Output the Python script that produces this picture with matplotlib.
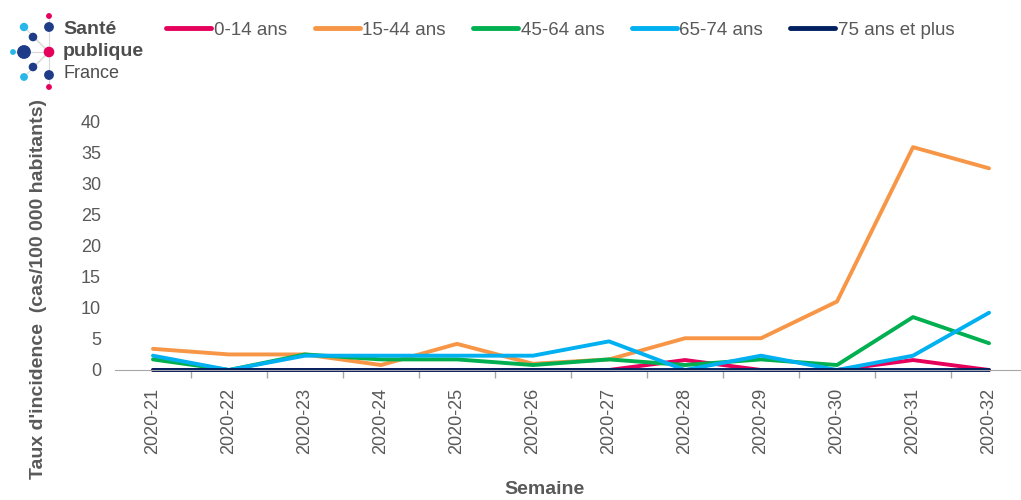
import matplotlib.pyplot as plt
import numpy as np
from matplotlib.lines import Line2D

WEEKS = ["2020-21", "2020-22", "2020-23", "2020-24", "2020-25", "2020-26",
         "2020-27", "2020-28", "2020-29", "2020-30", "2020-31", "2020-32"]

AGE_0_14 = [0.0, 0.0, 0.0, 0.0, 0.0, 0.0, 0.0, 1.6, 0.0, 0.0, 1.6, 0.0]
AGE_15_44 = [3.4, 2.5, 2.5, 0.8, 4.2, 1.0, 1.7, 5.1, 5.1, 11.0, 35.8, 32.4]
AGE_45_64 = [1.7, 0.0, 2.5, 1.7, 1.7, 0.8, 1.7, 0.8, 1.7, 0.8, 8.5, 4.3]
AGE_65_74 = [2.3, 0.0, 2.3, 2.3, 2.3, 2.3, 4.6, 0.0, 2.3, 0.0, 2.3, 9.2]
AGE_75_PLUS = [0.0] * 12

SERIES = [
    ("0-14 ans", AGE_0_14, "#E5005B"),
    ("15-44 ans", AGE_15_44, "#F79646"),
    ("45-64 ans", AGE_45_64, "#00B050"),
    ("65-74 ans", AGE_65_74, "#00B0F0"),
    ("75 ans et plus", AGE_75_PLUS, "#002060"),
]

TEXT = "#595959"
plt.rcParams["font.family"] = ["Liberation Sans", "DejaVu Sans"]

fig = plt.figure(figsize=(10.21, 5.0), dpi=100)
ax = fig.add_axes([0.1126, 0.26, 0.8933, 0.498])

x = np.arange(len(WEEKS))
for label, vals, color in SERIES:
    ax.plot(x, vals, color=color, linewidth=2.8, label=label,
            solid_capstyle="round", solid_joinstyle="round", clip_on=False)

ax.set_xlim(-0.5, len(WEEKS) - 0.5)
ax.set_ylim(0, 40)
ax.set_yticks(np.arange(0, 41, 5))
ax.tick_params(axis="y", length=0, labelsize=13, labelcolor=TEXT, pad=10)
ax.set_xticks(x)
ax.set_xticklabels(WEEKS, rotation=90, fontsize=13, color=TEXT)
ax.tick_params(axis="x", which="major", length=0, pad=13)
ax.set_xticks(np.arange(0.5, len(WEEKS) - 1, 1), minor=True)
ax.tick_params(axis="x", which="minor", length=6, color="#A6A6A6", width=1)
for side in ("top", "right", "left"):
    ax.spines[side].set_visible(False)
ax.spines["bottom"].set_color("#A6A6A6")

fig.text(0.038, 0.422, "Taux d'incidence  (cas/100 000 habitants)", rotation=90,
         ha="center", va="center", fontsize=14, fontweight="bold", color=TEXT)
fig.text(0.533, 0.02, "Semaine", ha="center", va="center", fontsize=14,
         fontweight="bold", color=TEXT)

handles = [Line2D([], [], color=c, linewidth=3.5, solid_capstyle="round")
           for _, _, c in SERIES]
fig.legend(handles, [s[0] for s in SERIES], loc="center left",
           bbox_to_anchor=(0.163, 0.94), ncol=5, frameon=False,
           fontsize=13.5, labelcolor=TEXT, handlelength=2.4,
           handletextpad=0.15, columnspacing=1.45, borderaxespad=0,
           borderpad=0)

# logo Santé publique France
lax = fig.add_axes([0, 0, 1, 1], facecolor="none")
lax.set_xlim(0, 1021)
lax.set_ylim(500, 0)
lax.axis("off")
cx, cy = 49, 52
for px, py in [(49, 16), (24, 27), (33, 37), (13, 52), (33, 67), (24, 77), (49, 87)]:
    lax.plot([cx, px], [cy, py], color="#D9D9D9", linewidth=0.8, zorder=1)
lax.plot([24, 49], [52, 52], color="#D9D9D9", linewidth=0.8, zorder=1)
dots = [
    (49, 16, 2.2, "#E5005B"), (49, 27, 4.2, "#1F3C88"), (24, 27, 3.5, "#29B6E8"),
    (33, 37, 3.6, "#1F3C88"), (13, 52, 2.2, "#29B6E8"), (24, 52, 6.2, "#1F3C88"),
    (49, 52, 4.6, "#E5005B"), (33, 67, 3.6, "#1F3C88"), (24, 77, 3.2, "#29B6E8"),
    (49, 75, 4.2, "#1F3C88"), (49, 87, 2.2, "#E5005B"),
]
for px, py, r, c in dots:
    lax.add_patch(plt.Circle((px, py), r, color=c, zorder=2))
lax.text(63, 30, "Santé", fontsize=14, fontweight="bold", color="#4D4D4D",
         va="center")
lax.text(63, 51, "publique", fontsize=14, fontweight="bold", color="#4D4D4D",
         va="center")
lax.text(63, 73, "France", fontsize=13, color="#4D4D4D", va="center")

fig.savefig("out.png", dpi=100)
